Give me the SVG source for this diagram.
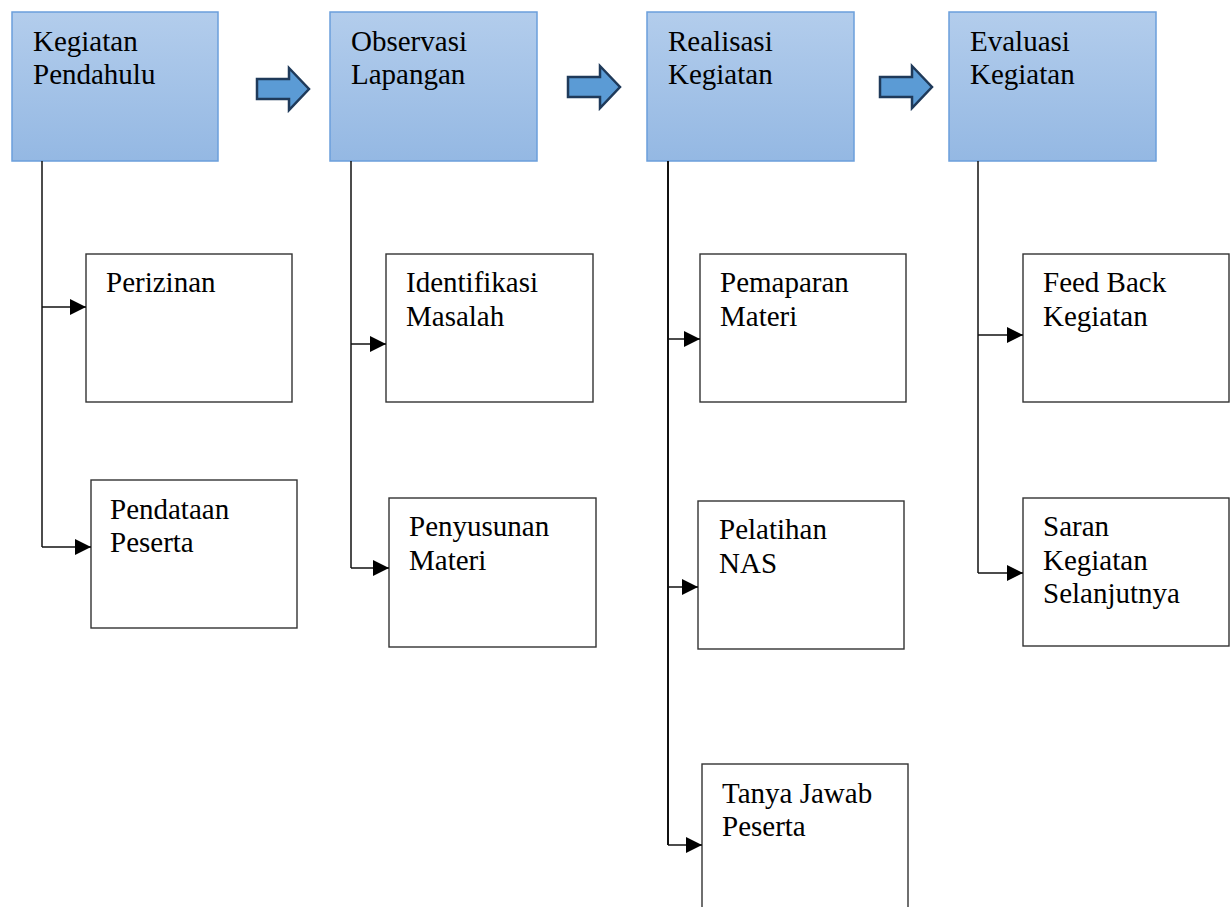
<svg xmlns="http://www.w3.org/2000/svg" width="1230" height="907" viewBox="0 0 1230 907">
<defs>
<linearGradient id="hg" x1="0" y1="0" x2="0" y2="1">
<stop offset="0" stop-color="#b3cdec"/>
<stop offset="1" stop-color="#94b8e3"/>
</linearGradient>
<marker id="ah" markerWidth="16" markerHeight="16" viewBox="0 0 16 16" refX="16" refY="8" markerUnits="userSpaceOnUse" orient="auto">
<path d="M0,0 L16,8 L0,16 Z" fill="#000"/>
</marker>
<path id="blk" d="M0,10 H32 V-1 L52,20 L32,41 V30 H0 Z"/>
</defs>
<style>
.head{fill:url(#hg);stroke:#6b9fdb;stroke-width:1.5}
.box{fill:#fff;stroke:#333;stroke-width:1.4}
.t text{font-size:29px;fill:#000}
.conn path{fill:none;stroke:#111;stroke-width:1.5}
.ba{fill:#5b9bd5;stroke:#1f3a5a;stroke-width:2.5;stroke-linejoin:miter}
</style>
<rect width="1230" height="907" fill="#fff"/>
<g class="t" font-family="Liberation Serif, DejaVu Serif, serif">
<g id="n-pendahulu"><rect class="head" x="12" y="12" width="206" height="149"/><text x="33" y="51">Kegiatan</text><text x="33" y="84">Pendahulu</text></g>
<g id="n-observasi"><rect class="head" x="330" y="12" width="207" height="149"/><text x="351" y="51">Observasi</text><text x="351" y="84">Lapangan</text></g>
<g id="n-realisasi"><rect class="head" x="647" y="12" width="207" height="149"/><text x="668" y="51">Realisasi</text><text x="668" y="84">Kegiatan</text></g>
<g id="n-evaluasi"><rect class="head" x="949" y="12" width="207" height="149"/><text x="970" y="51">Evaluasi</text><text x="970" y="84">Kegiatan</text></g>

<g id="n-perizinan"><rect class="box" x="86" y="254" width="206" height="148"/><text x="106" y="292">Perizinan</text></g>
<g id="n-pendataan"><rect class="box" x="91" y="480" width="206" height="148"/><text x="110" y="519">Pendataan</text><text x="110" y="552">Peserta</text></g>
<g id="n-identifikasi"><rect class="box" x="386" y="254" width="207" height="148"/><text x="406" y="292">Identifikasi</text><text x="406" y="326">Masalah</text></g>
<g id="n-penyusunan"><rect class="box" x="389" y="498" width="207" height="149"/><text x="409" y="536">Penyusunan</text><text x="409" y="570">Materi</text></g>
<g id="n-pemaparan"><rect class="box" x="700" y="254" width="206" height="148"/><text x="720" y="292">Pemaparan</text><text x="720" y="326">Materi</text></g>
<g id="n-pelatihan"><rect class="box" x="698" y="501" width="206" height="148"/><text x="719" y="539">Pelatihan</text><text x="719" y="573">NAS</text></g>
<g id="n-tanya"><rect class="box" x="702" y="764" width="206" height="160"/><text x="722" y="803">Tanya Jawab</text><text x="722" y="836">Peserta</text></g>
<g id="n-feedback"><rect class="box" x="1023" y="254" width="206" height="148"/><text x="1043" y="292">Feed Back</text><text x="1043" y="326">Kegiatan</text></g>
<g id="n-saran"><rect class="box" x="1023" y="498" width="206" height="148"/><text x="1043" y="536">Saran</text><text x="1043" y="570">Kegiatan</text><text x="1043" y="603">Selanjutnya</text></g>
</g>
<g id="connectors">
<g class="conn">
<path d="M42,161 V547"/>
<path d="M42,307 H86" marker-end="url(#ah)"/>
<path d="M42,547 H91" marker-end="url(#ah)"/>
<path d="M351,161 V568"/>
<path d="M351,344 H386" marker-end="url(#ah)"/>
<path d="M351,568 H389" marker-end="url(#ah)"/>
<path d="M668,161 V845" style="stroke-width:2"/>
<path d="M668,339 H700" marker-end="url(#ah)"/>
<path d="M668,587 H698" marker-end="url(#ah)"/>
<path d="M668,845 H702" marker-end="url(#ah)"/>
<path d="M978,161 V573"/>
<path d="M978,335 H1023" marker-end="url(#ah)"/>
<path d="M978,573 H1023" marker-end="url(#ah)"/>
</g>
<use href="#blk" class="ba" x="257" y="69"/>
<use href="#blk" class="ba" x="568" y="67"/>
<use href="#blk" class="ba" x="880" y="67"/>
</g>
</svg>
